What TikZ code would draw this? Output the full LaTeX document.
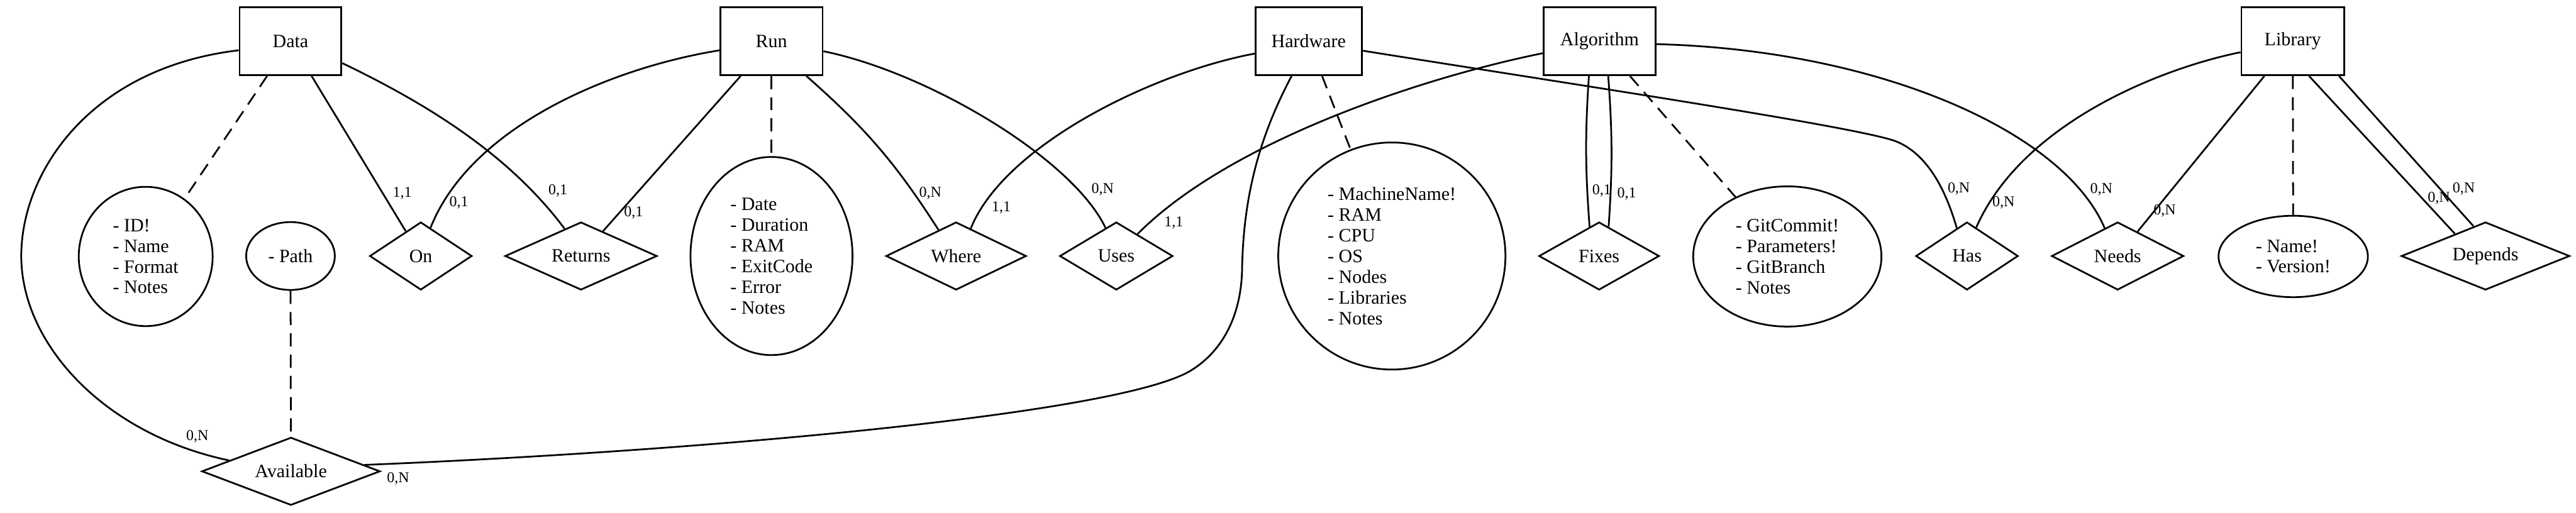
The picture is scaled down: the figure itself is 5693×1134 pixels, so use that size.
\documentclass[tikz,border=0pt]{standalone}
\usepackage{fontspec}
\setmainfont{Liberation Serif}
\usetikzlibrary{shapes.geometric}
\begin{document}
\begin{tikzpicture}[x=0.3pt,y=-0.3pt,
  every node/.style={font=\fontsize{12.5}{13.7}\selectfont},
  entity/.style={draw,line width=1.15pt,rectangle,minimum height=45pt,inner sep=0pt},
  rel/.style={draw,line width=1.15pt,diamond,aspect=2,minimum height=45pt,inner sep=0pt},
  attr/.style={draw,line width=1.15pt,ellipse,inner sep=0pt,align=left},
  card/.style={font=\fontsize{10}{12}\selectfont,inner sep=0pt},
  link/.style={line width=1.15pt},
  attrlink/.style={line width=1.15pt,dash pattern=on 8.7pt off 5.4pt},
]
\useasboundingbox (0,0) rectangle (5693,1134);

% entities
\node[entity,minimum width=67.5pt] (data) at (642,91) {Data};
\node[entity,minimum width=67.8pt] (run) at (1705,91) {Run};
\node[entity,minimum width=70.5pt] (hw) at (2892,91) {Hardware};
\node[entity,minimum width=74.1pt] (algo) at (3535,91) {Algorithm};
\node[entity,minimum width=68.1pt] (lib) at (5067,91) {Library};

% attributes
\node[attr,minimum width=88.8pt,minimum height=92.4pt] (dattr) at (322,567) {- ID!\\- Name\\- Format\\- Notes};
\node[attr,minimum width=58.8pt,minimum height=45pt] (pattr) at (642,566) {- Path};
\node[attr,minimum width=107.4pt,minimum height=131.4pt] (rattr) at (1705,566) {- Date\\- Duration\\- RAM\\- ExitCode\\- Error\\- Notes};
\node[attr,minimum width=150.6pt,minimum height=150.6pt] (hattr) at (3076,566) {- MachineName!\\- RAM\\- CPU\\- OS\\- Nodes\\- Libraries\\- Notes};
\node[attr,minimum width=124.8pt,minimum height=93pt] (aattr) at (3950,567) {- GitCommit!\\- Parameters!\\- GitBranch\\- Notes};
\node[attr,minimum width=99pt,minimum height=54pt] (lattr) at (5068,567) {- Name!\\- Version!};

% relationships
\node[rel,minimum width=67.8pt] (on) at (930,566) {On};
\node[rel,minimum width=100.8pt] (returns) at (1284,566) {Returns};
\node[rel,minimum width=93pt] (where) at (2113,566) {Where};
\node[rel,minimum width=75pt] (uses) at (2467,566) {Uses};
\node[rel,minimum width=79.8pt] (fixes) at (3534,566) {Fixes};
\node[rel,minimum width=67.8pt] (has) at (4347,566) {Has};
\node[rel,minimum width=87.6pt] (needs) at (4680,566) {Needs};
\node[rel,minimum width=111.6pt] (depends) at (5493,566) {Depends};
\node[rel,minimum width=118.2pt] (avail) at (643,1042) {Available};

% attribute links
\draw[attrlink] (data) -- (dattr);
\draw[attrlink] (pattr) -- (avail);
\draw[attrlink] (run) -- (rattr);
\draw[attrlink] (hw) -- (hattr);
\draw[attrlink] (algo) -- (aattr);
\draw[attrlink] (lib) -- (lattr);

% relationship links
\draw[link] (data) -- (on);
\draw[link] (run) -- (returns);
\draw[link] (lib) -- (needs);
\draw[link] (data.190) .. controls (200,150) and (47,380) .. (47,566) .. controls (47,760) and (230,960) .. (avail.170);
\draw[link] (data.-23) .. controls (955,235) and (1128,346) .. (returns.121);
\draw[link] (run.190) .. controls (1350,150) and (1040,280) .. (on.71);
\draw[link] (run.315) to[bend left=8] (where.124);
\draw[link] (run.-11) .. controls (2050,160) and (2370,350) .. (uses.111);
\draw[link] (hw.193) .. controls (2550,160) and (2220,320) .. (where.62);
\draw[link] (hw.244) .. controls (2790,290) and (2748,420) .. (2745,595) .. controls (2743,700) and (2700,780) .. (2627,822) .. controls (2450,920) and (1500,1000) .. (avail.5);
\draw[link] (hw.-10) .. controls (3500,190) and (4100,280) .. (4189,312) .. controls (4260,340) and (4300,420) .. (has.110);
\draw[link] (algo.192) .. controls (3150,170) and (2720,310) .. (uses.46);
\draw[link] (algo.253) to[bend right=4] (fixes.108);
\draw[link] (algo.284) to[bend left=4] (fixes.72);
\draw[link] (algo.-3) .. controls (4150,110) and (4560,290) .. (needs.115);
\draw[link] (lib.192) .. controls (4780,150) and (4470,270) .. (has.72);
\draw[link] (lib.295) -- (depends.144);
\draw[link] (lib.323) -- (depends.112);

% cardinalities
\node[card] (c1) at (889,427) {1,1};
\node[card] (c2) at (1014,448) {0,1};
\node[card] (c3) at (1233,422) {0,1};
\node[card] (c4) at (1400,470) {0,1};
\node[card] (c5) at (2056,427) {0,N};
\node[card] (c6) at (2213,459) {1,1};
\node[card] (c7) at (2437,419) {0,N};
\node[card] (c8) at (2594,492) {1,1};
\node[card] (c9) at (3540,421) {0,1};
\node[card] (c10) at (3595,428) {0,1};
\node[card] (c11) at (4329,418) {0,N};
\node[card] (c12) at (4428,448) {0,N};
\node[card] (c13) at (4644,419) {0,N};
\node[card] (c14) at (4784,466) {0,N};
\node[card] (c15) at (5390,438) {0,N};
\node[card] (c16) at (5445,417) {0,N};
\node[card] (c17) at (436,965) {0,N};
\node[card] (c18) at (880,1058) {0,N};
\end{tikzpicture}
\end{document}
